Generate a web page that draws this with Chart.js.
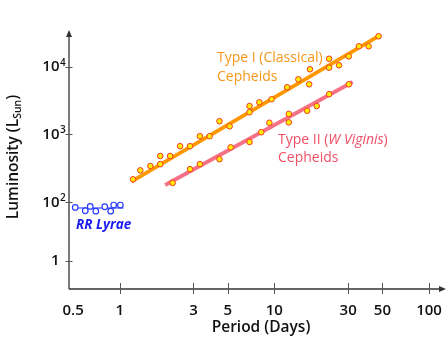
<!DOCTYPE html>
<html>
<head>
<meta charset="utf-8">
<script src="https://cdn.jsdelivr.net/npm/chart.js@4.4.1/dist/chart.umd.min.js"></script>
<style>
  html, body { margin: 0; padding: 0; background: #fff; }
</style>
</head>
<body>
<canvas id="plChart" width="447" height="339"></canvas>
<script>
// period (days) vs luminosity (L_sun)
const type1Period = [1.22, 1.36, 1.58, 1.83, 1.83, 2.12, 2.46, 2.85, 3.3, 3.82, 4.42, 5.14, 6.91, 6.91, 8.0, 9.6, 12.1, 14.3, 16.8, 17.0, 22.6, 22.6, 26.2, 30.3, 35.2, 40.7, 47.2];
const type1Lum = [218, 296, 343, 482, 365, 482, 672, 672, 944, 944, 1570, 1320, 2630, 2130, 2990, 3310, 4970, 6520, 5500, 9160, 13100, 9670, 10500, 14200, 20000, 20000, 28100];

const type2Period = [2.2, 2.85, 3.3, 4.42, 5.22, 6.91, 8.23, 9.29, 12.4, 12.4, 16.3, 18.8, 22.6, 30.3];
const type2Lum = [193, 308, 365, 432, 647, 775, 1080, 1490, 2010, 1510, 2240, 2630, 3930, 5500];

const rrPeriod = [0.516, 0.599, 0.645, 0.701, 0.801, 0.875, 0.915, 1.01];
const rrLum = [84, 75, 87, 74, 86, 74, 91, 91];

// fitted lines (end points)
const type1FitPeriod = [1.19, 48.7];
const type1FitLum = [201, 29400];
const type2FitPeriod = [1.97, 32.1];
const type2FitLum = [180, 5950];
const rrFitPeriod = [0.497, 1.06];
const rrFitLum = [82.4, 82.4];

// axis ticks
const periodTicks = [0.5, 1, 3, 5, 10, 30, 50, 100];
const lumTicks = [13.8, 100, 1000, 10000];
const lumTickBase = ['1', '10', '10', '10'];
const lumTickExp = ['', '2', '3', '4'];

const FONT = '"Open Sans", "DejaVu Sans", sans-serif';

function pts(xs, ys) {
    return xs.map((x, i) => ({ x: x, y: ys[i] }));
}

const decor = {
    id: 'decor',
    afterDraw(chart) {
        const ctx = chart.ctx;
        const xs = chart.scales.x, ys = chart.scales.y;
        const x0 = chart.chartArea.left, y0 = chart.chartArea.bottom;
        ctx.save();

        // axis lines + arrow heads
        ctx.strokeStyle = '#333';
        ctx.fillStyle = '#333';
        ctx.lineWidth = 1.3;
        ctx.beginPath();
        ctx.moveTo(x0, y0);
        ctx.lineTo(x0, 35);
        ctx.moveTo(x0, y0);
        ctx.lineTo(441, y0);
        ctx.stroke();
        ctx.beginPath();
        ctx.moveTo(x0, 30);
        ctx.lineTo(x0 - 3, 37);
        ctx.lineTo(x0 + 3, 37);
        ctx.closePath();
        ctx.fill();
        ctx.beginPath();
        ctx.moveTo(446, y0);
        ctx.lineTo(439, y0 - 3);
        ctx.lineTo(439, y0 + 3);
        ctx.closePath();
        ctx.fill();

        // tick marks
        ctx.strokeStyle = '#555';
        ctx.lineWidth = 1;
        ctx.beginPath();
        periodTicks.slice(1).forEach(v => {
            const px = Math.round(xs.getPixelForValue(v)) + 0.5;
            ctx.moveTo(px, y0 - 6);
            ctx.lineTo(px, y0 + 5);
        });
        lumTicks.forEach(v => {
            const py = Math.round(ys.getPixelForValue(v)) + 0.5;
            ctx.moveTo(x0 - 3.5, py);
            ctx.lineTo(x0 + 3.5, py);
        });
        ctx.stroke();

        // y tick labels with exponents
        ctx.fillStyle = '#111';
        ctx.textBaseline = 'middle';
        lumTicks.forEach((v, i) => {
            const py = ys.getPixelForValue(v);
            ctx.font = '600 15px ' + FONT;
            ctx.textAlign = 'right';
            ctx.fillText(lumTickBase[i], 59.5, py);
            if (lumTickExp[i]) {
                ctx.font = '600 10px ' + FONT;
                ctx.textAlign = 'left';
                ctx.fillText(lumTickExp[i], 60, py - 4);
            }
        });

        // axis titles
        ctx.textAlign = 'center';
        ctx.font = '600 15.5px ' + FONT;
        ctx.fillText('Period (Days)', 261, 328);

        ctx.translate(18, 157);
        ctx.rotate(-Math.PI / 2);
        ctx.textBaseline = 'alphabetic';
        ctx.textAlign = 'left';
        const big = '600 15.5px ' + FONT, small = '600 10.5px ' + FONT;
        ctx.font = big;
        const w1 = ctx.measureText('Luminosity (L').width;
        const w3 = ctx.measureText(')').width;
        ctx.font = small;
        const w2 = ctx.measureText('Sun').width;
        let tx = -(w1 + w2 + w3) / 2;
        ctx.font = big;
        ctx.fillText('Luminosity (L', tx, 0);
        tx += w1;
        ctx.font = small;
        ctx.fillText('Sun', tx, 3);
        tx += w2;
        ctx.font = big;
        ctx.fillText(')', tx, 0);
        ctx.setTransform(1, 0, 0, 1, 0, 0);

        // annotations
        ctx.textBaseline = 'middle';
        ctx.textAlign = 'left';
        ctx.font = '500 14px ' + FONT;
        ctx.fillStyle = '#f5961a';
        ctx.fillText('Type I (Classical)', 217, 58);
        ctx.fillText('Cepheids', 217, 77);

        ctx.fillStyle = '#ef5066';
        let ax = 278;
        ctx.fillText('Type II (', ax, 140);
        ax += ctx.measureText('Type II (').width;
        ctx.font = 'italic 500 14px ' + FONT;
        ctx.fillText('W Viginis', ax, 140);
        ax += ctx.measureText('W Viginis').width;
        ctx.font = '500 14px ' + FONT;
        ctx.fillText(')', ax, 140);
        ctx.fillText('Cepheids', 278, 158);

        ctx.fillStyle = '#1c1cf0';
        ctx.font = 'italic bold 13.5px ' + FONT;
        ctx.fillText('RR Lyrae', 76, 225);

        ctx.restore();
    }
};

new Chart(document.getElementById('plChart'), {
    type: 'scatter',
    data: {
        datasets: [
            {
                data: pts(type1Period, type1Lum),
                pointRadius: 2.8,
                backgroundColor: '#ffec00',
                borderColor: '#f23a26',
                borderWidth: 1,
                order: 0
            },
            {
                data: pts(type2Period, type2Lum),
                pointRadius: 2.8,
                backgroundColor: '#ffec00',
                borderColor: '#f23a26',
                borderWidth: 1,
                order: 0
            },
            {
                data: pts(rrPeriod, rrLum),
                pointRadius: 2.8,
                backgroundColor: '#ffffff',
                borderColor: '#2a3cff',
                borderWidth: 1.2,
                order: 0
            },
            {
                data: pts(type1FitPeriod, type1FitLum),
                showLine: true,
                pointRadius: 0,
                borderColor: '#ff9800',
                borderWidth: 3.8,
                order: 1
            },
            {
                data: pts(type2FitPeriod, type2FitLum),
                showLine: true,
                pointRadius: 0,
                borderColor: 'rgba(244, 88, 112, 0.85)',
                borderWidth: 3.8,
                order: 1
            },
            {
                data: pts(rrFitPeriod, rrFitLum),
                showLine: true,
                pointRadius: 0,
                borderColor: 'rgba(110, 120, 255, 0.8)',
                borderWidth: 2,
                order: 1
            }
        ]
    },
    options: {
        responsive: false,
        animation: false,
        layout: { padding: { left: 69, top: 32, right: 11, bottom: 0 } },
        plugins: { legend: { display: false }, tooltip: { enabled: false } },
        scales: {
            x: {
                type: 'logarithmic',
                min: 0.4703,
                max: 107.1,
                bounds: 'data',
                grid: { display: false },
                border: { display: false },
                afterBuildTicks: scale => {
                    scale.ticks = periodTicks.map(v => ({ value: v }));
                },
                afterFit: scale => { scale.height = 50; },
                ticks: {
                    autoSkip: false,
                    maxRotation: 0,
                    padding: 5,
                    color: '#111',
                    font: { family: FONT, size: 15, weight: 600 },
                    callback: v => String(v)
                }
            },
            y: {
                type: 'logarithmic',
                display: false,
                min: 5.26,
                max: 32500,
                bounds: 'data'
            }
        }
    },
    plugins: [decor]
});
</script>
</body>
</html>
